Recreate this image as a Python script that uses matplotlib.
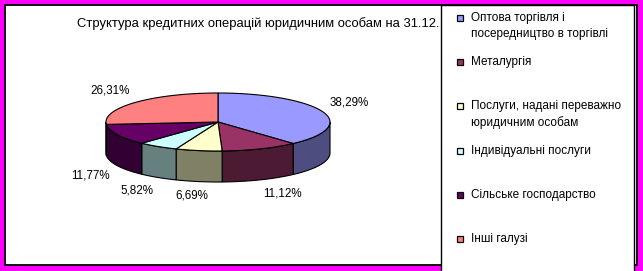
import numpy as np
import matplotlib
matplotlib.use("Agg")
import matplotlib.pyplot as plt
from matplotlib.patches import Polygon, Rectangle

plt.rcParams['font.family'] = ['Liberation Sans', 'DejaVu Sans']

# data
title = "Структура кредитних операцій юридичним особам на 31.12."
categories = ["Оптова торгівля і\nпосередництво в торгівлі",
              "Металургія",
              "Послуги, надані переважно\nюридичним особам",
              "Індивідуальні послуги",
              "Сільське господарство",
              "Інші галузі"]
shares = [38.29, 11.12, 6.69, 5.82, 11.77, 26.31]
top_colors = ["#9999FF", "#993366", "#FFFFCC", "#CCFFFF", "#660066", "#FF8080"]
side_colors = ["#4D4D80", "#4D1A33", "#808066", "#668080", "#330033", "#804040"]

W, H = 643, 271
fig = plt.figure(figsize=(W / 100, H / 100), dpi=100, facecolor="#FF00FF")
ax = fig.add_axes([0, 0, 1, 1])
ax.set_xlim(0, W)
ax.set_ylim(H, 0)
ax.axis("off")

# chart area
ax.add_patch(Rectangle((5, 5), 631.5, 260, facecolor="white", edgecolor="black",
                       lw=1.3, zorder=0))

ax.text(77, 24, title, fontsize=9.4, va="center", ha="left", zorder=1)

# 3D pie (pixel geometry)
cx, cy, a, b, depth = 218, 122, 112, 29, 31
fracs = np.array(shares) / sum(shares)
edges = 90 - 360 * np.concatenate([[0], np.cumsum(fracs)])


def ell(t_deg, dy=0.0):
    t = np.radians(t_deg)
    return np.column_stack([cx + a * np.cos(t), cy - b * np.sin(t) + dy])


# side walls (front half only, angles between -180 and 0)
for i in range(len(shares)):
    t0, t1 = edges[i], edges[i + 1]
    for off in (0, -360):
        lo, hi = max(t1 + off, -180), min(t0 + off, 0)
        if hi - lo <= 0:
            continue
        ts = np.linspace(hi, lo, 60)
        pts = np.vstack([ell(ts), ell(ts[::-1], depth)])
        ax.add_patch(Polygon(pts, closed=True, facecolor=side_colors[i],
                             edgecolor="black", lw=0.8, zorder=2))

# top faces
for i in range(len(shares)):
    ts = np.linspace(edges[i], edges[i + 1], 120)
    pts = np.vstack([[cx, cy], ell(ts)])
    ax.add_patch(Polygon(pts, closed=True, facecolor=top_colors[i],
                         edgecolor="black", lw=0.8, zorder=3))

# data labels
pad = 8
for i, v in enumerate(shares):
    mid = (edges[i] + edges[i + 1]) / 2
    c, s = np.cos(np.radians(mid)), np.sin(np.radians(mid))
    x = cx + (a + pad) * c
    y = cy - (b + pad) * s + (depth if s < 0 else 0)
    ha = "left" if c > 0.3 else ("right" if c < -0.3 else "center")
    va = "top" if s < -0.3 else ("bottom" if s > 0.3 else "center")
    if ha == "center":
        x -= 6
    ax.text(x, y, ("%.2f%%" % v).replace(".", ","), fontsize=8.4, ha=ha, va=va, zorder=4)

# legend box
ax.add_patch(Rectangle((441, 5), 193.3, 270, facecolor="white", edgecolor="black",
                       lw=1.0, zorder=5))
y0, step, line_h = 18, 44.2, 16.5
for i, lab in enumerate(categories):
    y = y0 + i * step
    ax.add_patch(Rectangle((457, y - 3), 6, 6, facecolor=top_colors[i],
                           edgecolor="black", lw=0.9, zorder=6))
    for k, line in enumerate(lab.split("\n")):
        ax.text(471, y + k * line_h, line, fontsize=8.5, ha="left", va="center", zorder=6)

fig.savefig("out.png", dpi=100, facecolor=fig.get_facecolor())
